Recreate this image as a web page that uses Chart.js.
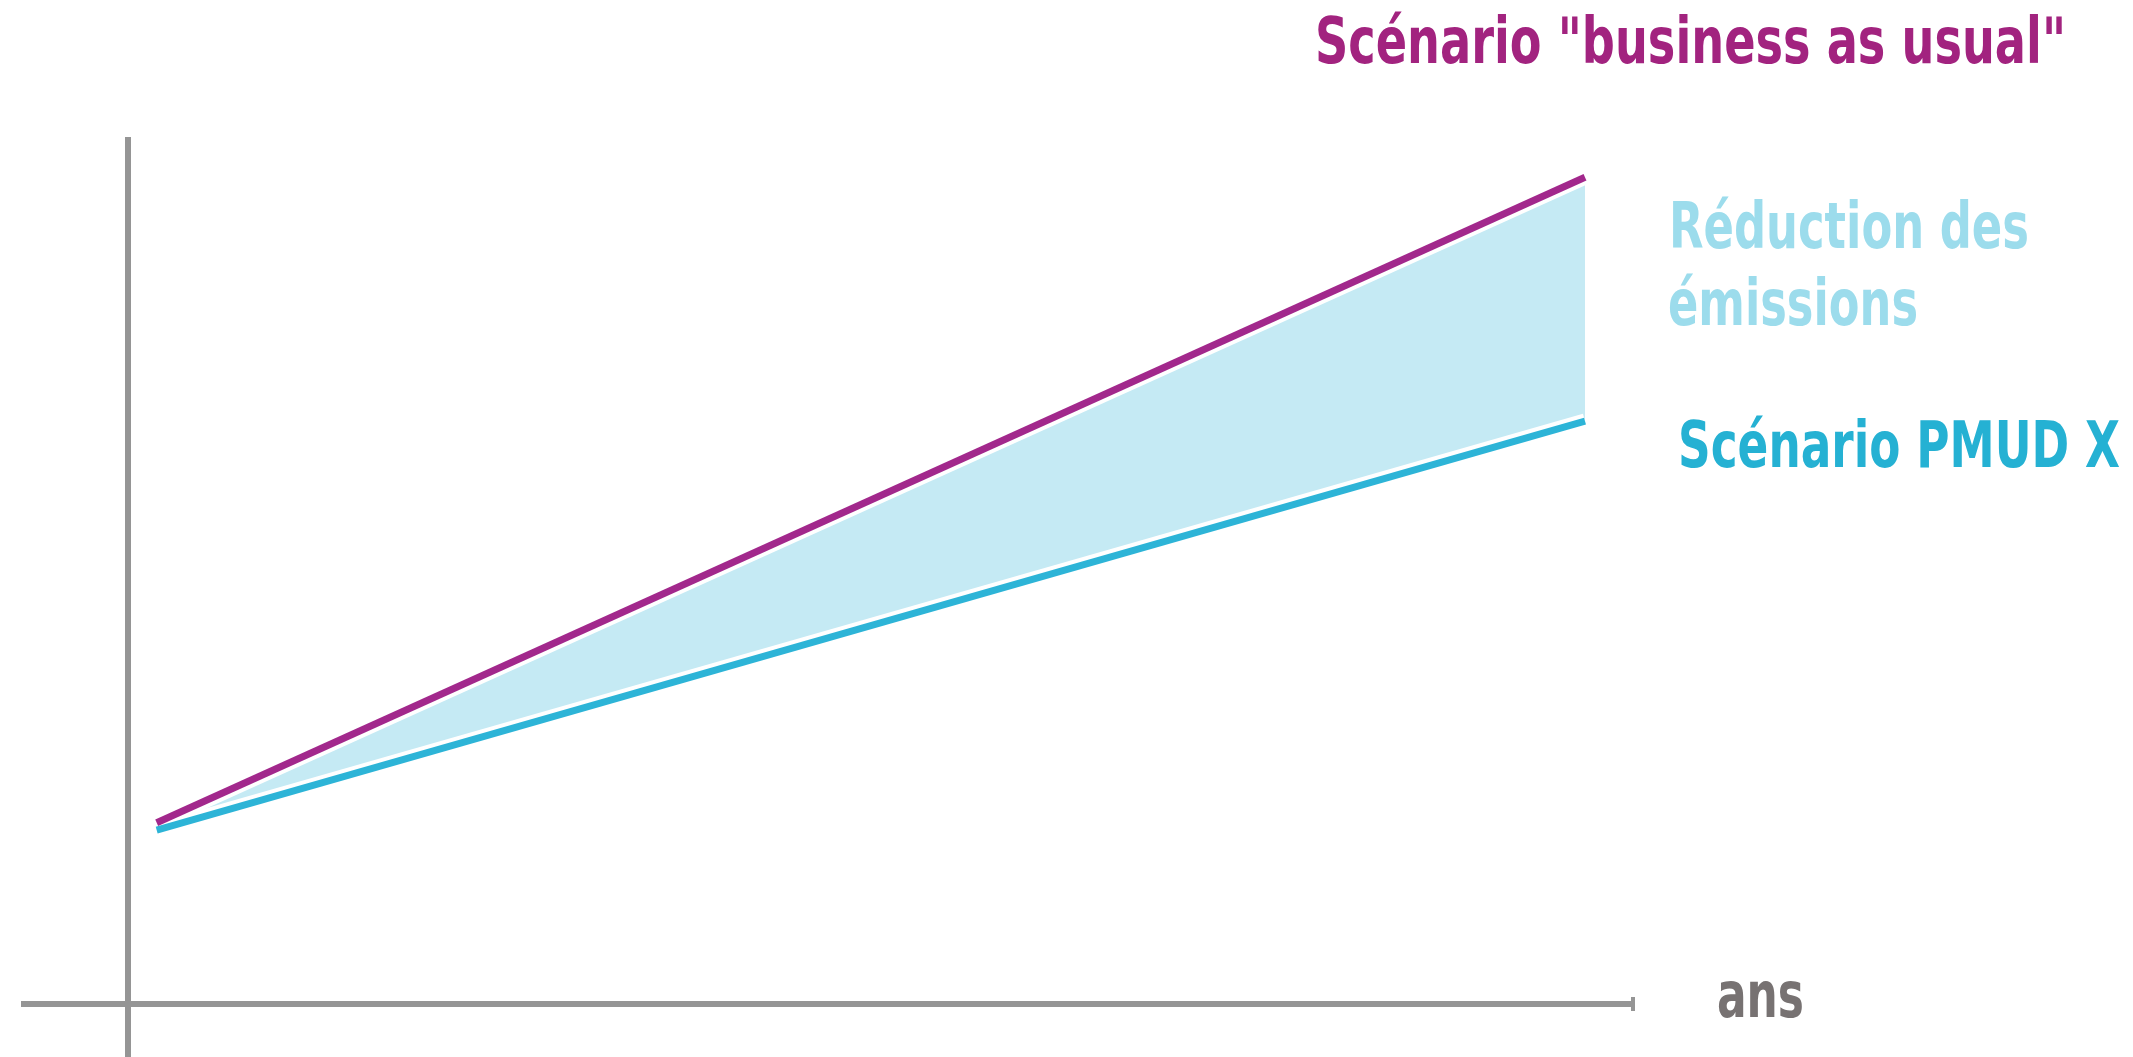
<!DOCTYPE html>
<html>
<head>
<meta charset="utf-8">
<script src="https://cdn.jsdelivr.net/npm/chart.js@4"></script>
<style>
  html, body { margin: 0; padding: 0; background: #fff; }
  #wrap { width: 2133px; height: 1057px; position: relative; }
</style>
</head>
<body>
<div id="wrap"><canvas id="myChart"></canvas></div>
<script>
// years (arbitrary units, no ticks shown on the picture)
const years = [0.2, 10.2];
const businessAsUsual = [1.71, 7.8];
const scenarioPmud = [1.64, 5.5];

const labelBau = 'Scénario "business as usual"';
const labelReduction = ['Réduction des', 'émissions'];
const labelPmud = 'Scénario PMUD X';
const labelX = 'ans';

const axisGrey = '#959595';
const magenta = '#a2288c';
const cyan = '#2db4d7';
const fillBlue = '#c5eaf4';

function toPoints(xs, ys) {
    return xs.map((x, i) => ({ x: x, y: ys[i] }));
}

// the picture uses a narrow rounded font, squeeze a condensed one to the same width
function narrowText(ctx, text, x, y, width) {
    const w = ctx.measureText(text).width;
    ctx.save();
    ctx.translate(x, y);
    ctx.scale(width / w, 1);
    ctx.fillText(text, 0, 0);
    ctx.restore();
}

// texts and the little end cap of the time axis
const annotations = {
    id: 'annotations',
    afterDraw(chart) {
        const ctx = chart.ctx;
        const xs = chart.scales.x;
        const ys = chart.scales.y;
        ctx.save();
        ctx.fillStyle = axisGrey;
        ctx.fillRect(xs.right - 4, ys.getPixelForValue(0) - 7, 4, 14);

        ctx.font = 'bold 64px "DejaVu Sans Condensed", "DejaVu Sans", sans-serif';
        ctx.textBaseline = 'alphabetic';
        ctx.textAlign = 'left';
        ctx.fillStyle = '#a2237f';
        narrowText(ctx, labelBau, 1315, 63, 751);
        ctx.fillStyle = '#9cdcec';
        narrowText(ctx, labelReduction[0], 1669, 248, 360);
        narrowText(ctx, labelReduction[1], 1668, 325, 250);
        ctx.fillStyle = '#25b1d3';
        narrowText(ctx, labelPmud, 1678, 467, 442);
        ctx.fillStyle = '#777272';
        narrowText(ctx, labelX, 1717, 1017, 87);
        ctx.restore();
    }
};

function onlyZero(scale) {
    scale.ticks = [{ value: 0 }];
}

const ctx = document.getElementById('myChart').getContext('2d');
const chart = new Chart(ctx, {
    type: 'line',
    data: {
        datasets: [{
            label: labelPmud,
            data: toPoints(years, scenarioPmud),
            borderColor: cyan,
            borderWidth: 7,
            pointRadius: 0,
            fill: false,
            order: 0
        }, {
            label: labelBau,
            data: toPoints(years, businessAsUsual),
            borderColor: magenta,
            borderWidth: 7,
            pointRadius: 0,
            backgroundColor: fillBlue,
            fill: { target: 0 },
            order: 0
        }, {
            label: 'halo pmud',
            data: toPoints(years, scenarioPmud),
            borderColor: '#ffffff',
            borderWidth: 15,
            pointRadius: 0,
            fill: false,
            order: 1
        }, {
            label: 'halo bau',
            data: toPoints(years, businessAsUsual),
            borderColor: '#ffffff',
            borderWidth: 15,
            pointRadius: 0,
            fill: false,
            order: 1
        }]
    },
    options: {
        responsive: true,
        maintainAspectRatio: false,
        animation: false,
        layout: { padding: { left: 21, right: 498, top: 137, bottom: 0 } },
        plugins: {
            legend: { display: false },
            tooltip: { enabled: false },
            filler: { drawTime: 'beforeDatasetsDraw' }
        },
        scales: {
            x: {
                type: 'linear',
                min: -0.75,
                max: 10.55,
                afterBuildTicks: onlyZero,
                ticks: { display: false },
                border: { display: false },
                grid: { color: axisGrey, lineWidth: 6, drawTicks: false }
            },
            y: {
                type: 'linear',
                min: -0.5,
                max: 8.18,
                afterBuildTicks: onlyZero,
                ticks: { display: false },
                border: { display: false },
                grid: { color: axisGrey, lineWidth: 6, drawTicks: false }
            }
        }
    },
    plugins: [annotations]
});
</script>
</body>
</html>
